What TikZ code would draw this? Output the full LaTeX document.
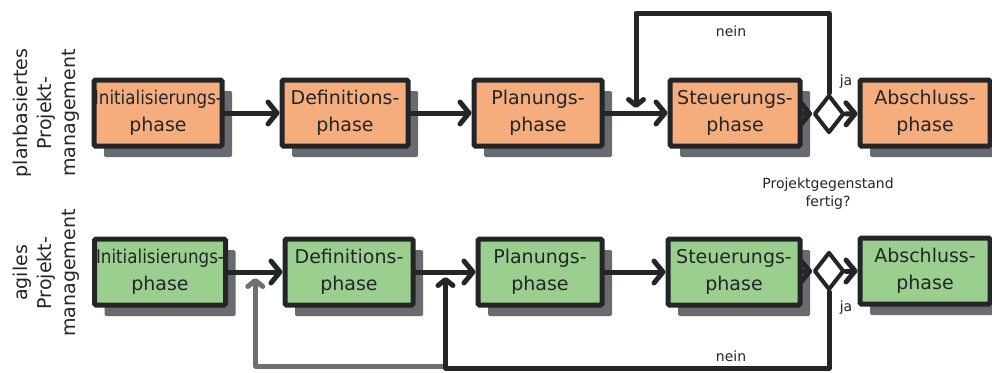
\documentclass[tikz,border=0pt]{standalone}
\usepackage{fontspec}
\setmainfont{DejaVu Sans}
\usepackage{graphicx}
\usetikzlibrary{arrows.meta,shapes.geometric,shadows,calc}

\definecolor{ink}{HTML}{232527}
\definecolor{planfill}{HTML}{F5AD7E}
\definecolor{agilefill}{HTML}{9BCF8F}
\definecolor{shade}{HTML}{6A6B70}
\definecolor{loopgray}{HTML}{6E6F72}

\tikzset{
  phasebox/.style={draw=ink, line width=5pt, rectangle, rounded corners=1.5pt,
    inner sep=0pt, minimum height=66pt, align=center,
    font=\fontsize{19}{27}\selectfont, text=ink,
    drop shadow={shadow xshift=10pt, shadow yshift=-11pt, fill=shade, opacity=1, rounded corners=5pt}},
  planbox/.style={phasebox, fill=planfill},
  agilebox/.style={phasebox, fill=agilefill},
  decision/.style={draw=ink, fill=white, line width=4pt, diamond, inner sep=0pt,
    minimum width=30pt, minimum height=38pt, line join=round},
  flow/.style={draw=ink, line width=5pt, line cap=round, line join=round,
    -{Straight Barb[length=9pt, width=22pt, line cap=round, line join=round]}},
  flowback/.style={flow, -{Straight Barb[length=6pt, width=15pt, line cap=round, line join=round]}},
  flowgray/.style={flowback, draw=loopgray},
  sidelabel/.style={rotate=90, align=center, font=\fontsize{19}{24}\selectfont, text=ink},
  note/.style={font=\fontsize{14}{18}\selectfont, text=ink, align=center}
}

\begin{document}
\begin{tikzpicture}[x=1pt, y=-1pt]
\useasboundingbox (0,0) rectangle (992,372);

% row labels
\node[sidelabel] (lplan) at (46,113) {planbasiertes\\Projekt-\\management};
\node[sidelabel] (lagil) at (46,273) {agiles\\Projekt-\\management};

% plan-driven row
\node[planbox, minimum width=128pt] (i1) at (158,113) {\scalebox{0.88}[1]{Initialisierungs-}\\phase};
\node[planbox, minimum width=126pt] (d1) at (345,113) {Definitions-\\phase};
\node[planbox, minimum width=128pt] (p1) at (538,113) {Planungs-\\phase};
\node[planbox, minimum width=130pt] (s1) at (735,113) {Steuerungs-\\phase};
\node[decision] (q1) at (829,114) {};
\node[planbox, minimum width=130pt] (a1) at (925,113) {Abschluss-\\phase};

\draw[flow] (i1) -- (d1);
\draw[flow] (d1) -- (p1);
\draw[flow] (p1) -- (s1);
\draw[flow] (s1) -- (q1);
\draw[flow] (q1) -- (a1);

\coordinate (m1) at ($(p1.east)!0.5!(s1.west)$);
\draw[flowback, shorten >=5pt] (q1.north) -- ++(0,-80) -| (m1);

\node[note] (ja1) at (846,82) {ja};
\node[note] (nein1) at (731,31) {nein};
\node[note] (ask) at (828,194) {Projektgegenstand\\fertig?};

% agile row
\node[agilebox, minimum width=131pt] (i2) at (160,272) {\scalebox{0.88}[1]{Initialisierungs-}\\phase};
\node[agilebox, minimum width=128pt] (d2) at (349,272) {Definitions-\\phase};
\node[agilebox, minimum width=124pt] (p2) at (540,272) {Planungs-\\phase};
\node[agilebox, minimum width=132pt] (s2) at (734,272) {Steuerungs-\\phase};
\node[decision] (q2) at (829,271) {};
\node[agilebox, minimum width=130pt] (a2) at (925,271) {Abschluss-\\phase};

\coordinate (n2) at ($(i2.east)!0.5!(d2.west)$);
\coordinate (m2) at ($(d2.east)!0.5!(p2.west)$);
\coordinate (b2) at ($(m2)+(0,94)$);

% loop back to the definition phase (drawn first, lies underneath)
\draw[flowgray, shorten >=6pt] (b2) -| (n2);

\draw[flow] (i2) -- (d2);
\draw[flow] (d2) -- (p2);
\draw[flow] (p2) -- (s2);
\draw[flow] (s2) -- (q2);
\draw[flow] (q2) -- (a2);

\draw[flowback, shorten >=5pt] (q2.south) -- ++(0,76) -| (m2);

\node[note] (ja2) at (846,308) {ja};
\node[note] (nein2) at (731,356) {nein};
\end{tikzpicture}
\end{document}
